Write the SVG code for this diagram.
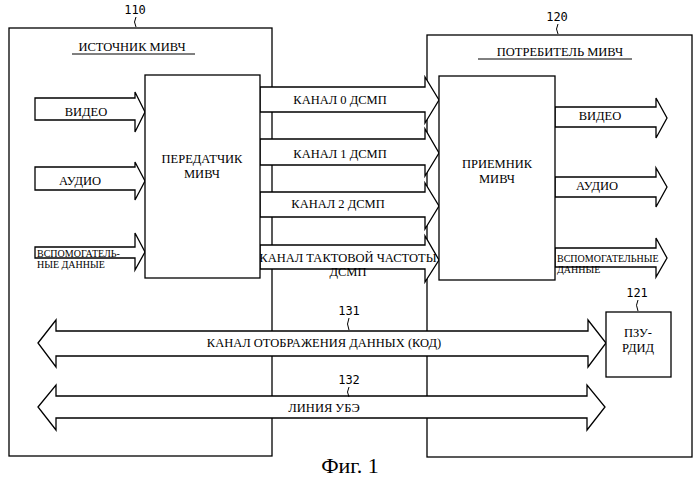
<svg xmlns="http://www.w3.org/2000/svg" width="699" height="482" viewBox="0 0 699 482">
<style>
.b{fill:#fff;stroke:#000;stroke-width:1.3}
.a{fill:#fff;stroke:#000;stroke-width:1.3;stroke-linejoin:miter}
text{font-family:"Liberation Serif","Times New Roman",serif;font-size:12.5px;fill:#000}
.m{font-family:"DejaVu Sans Mono",monospace;font-size:12px}
.s{font-size:10px}
</style>
<g id="src"><rect class="b" x="9" y="28" width="263" height="428"/><text x="132" y="51" text-anchor="middle">ИСТОЧНИК МИВЧ</text><line x1="72" y1="54" x2="195" y2="54" stroke="#000"/><text class="m" x="135" y="14" text-anchor="middle">110</text><path d="M136 17 q-3 5 0 10" fill="none" stroke="#000"/></g>
<g id="snk"><rect class="b" x="427" y="35" width="265" height="422"/><text x="560" y="56" text-anchor="middle">ПОТРЕБИТЕЛЬ МИВЧ</text><line x1="478" y1="59" x2="632" y2="59" stroke="#000"/><text class="m" x="557" y="21" text-anchor="middle">120</text><path d="M558 24 q-3 5 0 10" fill="none" stroke="#000"/></g>
<g id="connectors">
<path class="a" d="M35 98H135V92L145 112L135 132V120H35Z"/>
<path class="a" d="M35 167H135V162L145 181L135 200V190H35Z"/>
<path class="a" d="M35 247H135V233L145 252L135 270V258H35Z"/>
<path class="a" d="M260 87H425V77L439 100L425 123V112H260Z"/>
<path class="a" d="M260 139H425V129L439 153L425 176V165H260Z"/>
<path class="a" d="M260 192H425V183L439 206L425 229V217H260Z"/>
<path class="a" d="M260 245H425V236L439 260L425 282V269H260Z"/>
<path class="a" d="M555 107H656V98L667 118L656 138V127H555Z"/>
<path class="a" d="M555 177H656V168L667 187L656 207V197H555Z"/>
<path class="a" d="M555 248H656V238L667 258L656 277V267H555Z"/>
<path class="a" d="M38 343L56 320V331H588V320L606 343L588 367V356H56V367Z"/>
<path class="a" d="M38 407L56 385V396H587V385L605 407L587 430V418H56V430Z"/>
<text x="340" y="104" text-anchor="middle">КАНАЛ 0 ДСМП</text>
<text x="340" y="158" text-anchor="middle">КАНАЛ 1 ДСМП</text>
<text x="338" y="208" text-anchor="middle">КАНАЛ 2 ДСМП</text>
<text x="348" y="262" text-anchor="middle">КАНАЛ ТАКТОВОЙ ЧАСТОТЫ</text>
<text x="348" y="276" text-anchor="middle">ДСМП</text>
<text x="86" y="116" text-anchor="middle">ВИДЕО</text>
<text x="80" y="185" text-anchor="middle">АУДИО</text>
<text class="s" x="37" y="257">ВСПОМОГАТЕЛЬ-</text>
<text class="s" x="37" y="268">НЫЕ ДАННЫЕ</text>
<text x="600" y="120" text-anchor="middle">ВИДЕО</text>
<text x="597" y="190" text-anchor="middle">АУДИО</text>
<text class="s" x="557" y="262">ВСПОМОГАТЕЛЬНЫЕ</text>
<text class="s" x="557" y="273">ДАННЫЕ</text>
<text x="324" y="347" text-anchor="middle">КАНАЛ ОТОБРАЖЕНИЯ ДАННЫХ (КОД)</text>
<text x="324" y="412" text-anchor="middle">ЛИНИЯ УБЭ</text>
<text class="m" x="349" y="315" text-anchor="middle">131</text>
<path d="M349 318 q-3 6 0 12" fill="none" stroke="#000"/>
<text class="m" x="349" y="384" text-anchor="middle">132</text>
<path d="M349 387 q-3 5 0 10" fill="none" stroke="#000"/>
</g>
<g id="tx"><rect class="b" x="145" y="75" width="115" height="203"/><text x="202" y="163" text-anchor="middle">ПЕРЕДАТЧИК</text><text x="202" y="178" text-anchor="middle">МИВЧ</text></g>
<g id="rx"><rect class="b" x="439" y="76" width="116" height="204"/><text x="497" y="168" text-anchor="middle">ПРИЕМНИК</text><text x="497" y="183" text-anchor="middle">МИВЧ</text></g>
<g id="rom"><rect class="b" x="606" y="312" width="65" height="65"/><text x="638" y="337" text-anchor="middle">ПЗУ-</text><text x="638" y="352" text-anchor="middle">РДИД</text><text class="m" x="637" y="297" text-anchor="middle">121</text><path d="M638 300 q-3 5 0 11" fill="none" stroke="#000"/></g>
<text x="350" y="473" text-anchor="middle" style="font-size:22px">Фиг. 1</text>
</svg>
